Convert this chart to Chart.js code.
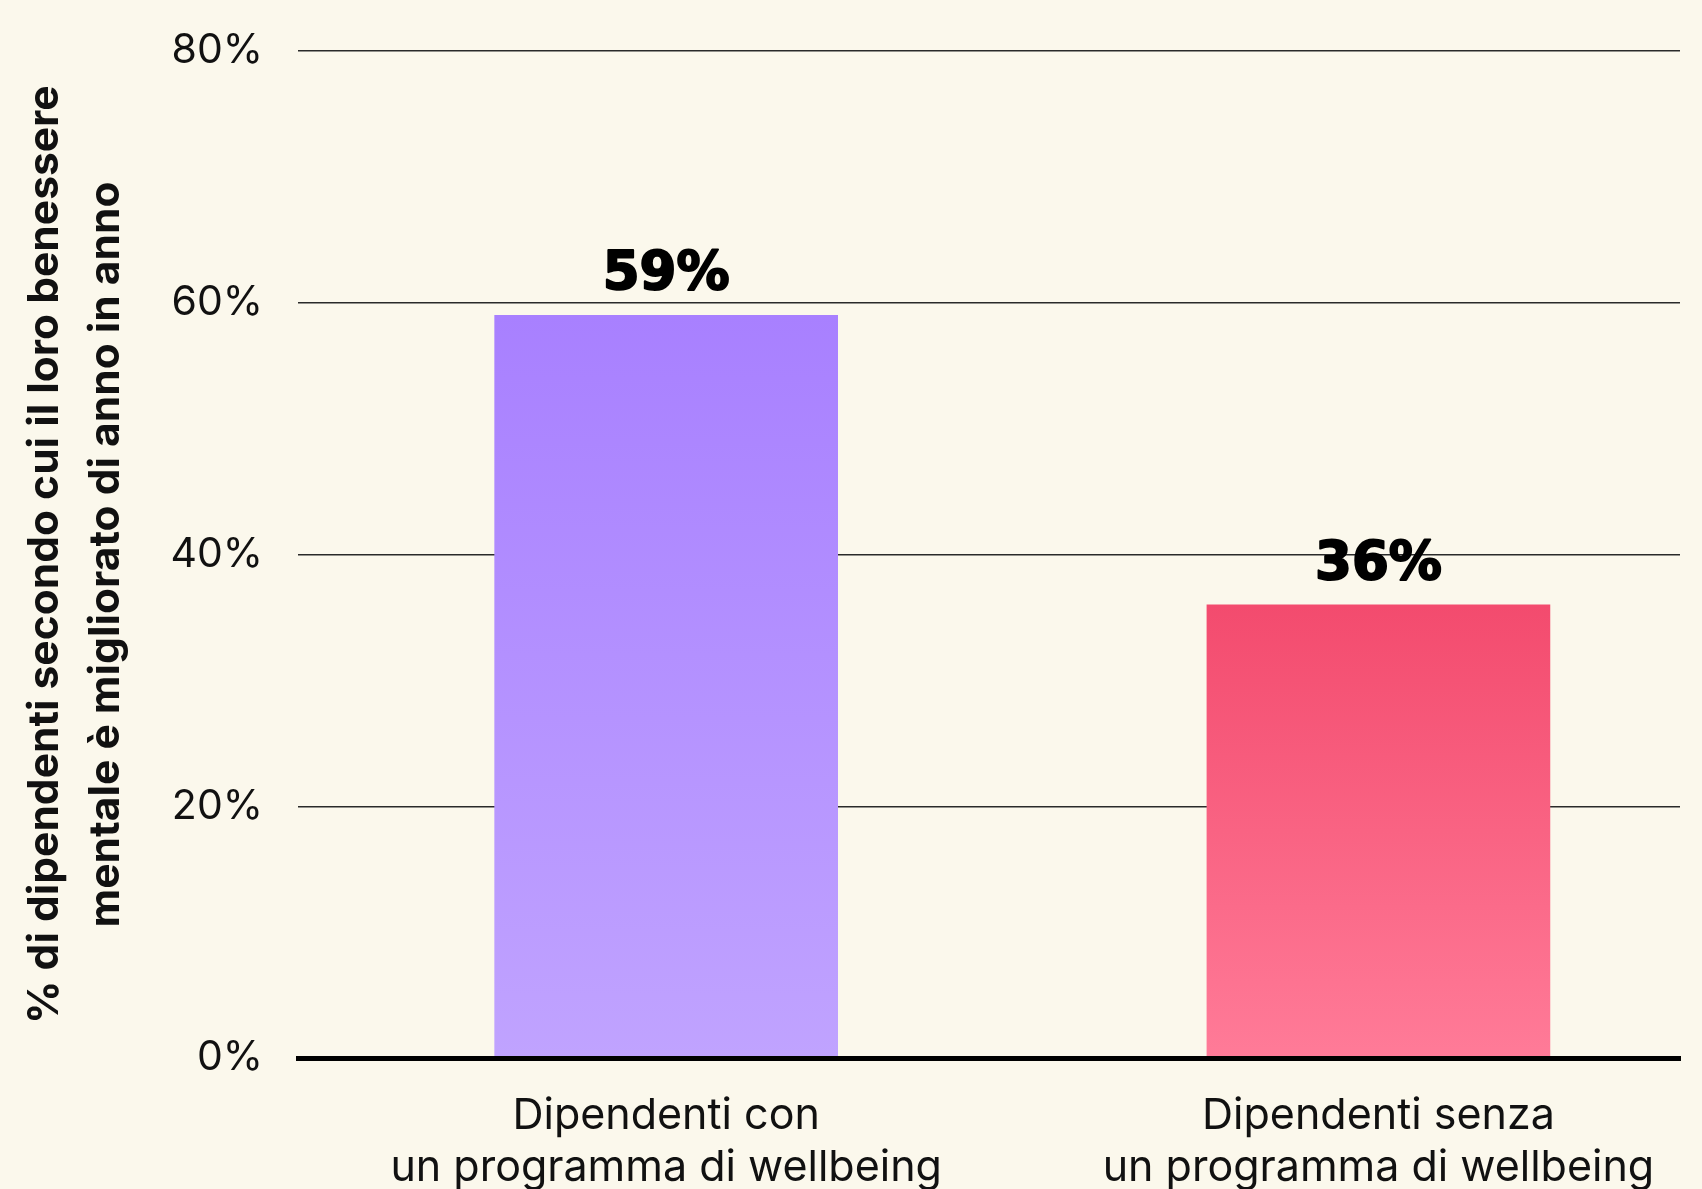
<!DOCTYPE html>
<html>
<head>
<meta charset="utf-8">
<script src="https://cdn.jsdelivr.net/npm/chart.js@4"></script>
<style>
  html, body { margin: 0; padding: 0; background: #FBF8EC; }
  #wrap { width: 1702px; height: 1189px; }
</style>
</head>
<body>
<div id="wrap"><canvas id="chart" width="1702" height="1189"></canvas></div>
<script>
// Chart data
const categories = [
  ["Dipendenti con", "un programma di wellbeing"],
  ["Dipendenti senza", "un programma di wellbeing"]
];
const values = [59, 36];
const yTickValues = [0, 20, 40, 60, 80];
const yTitle = [
  "% di dipendenti secondo cui il loro benessere",
  "mentale è migliorato di anno in anno"
];
const topColors = ["#A880FF", "#F34B6E"];
const bottomColors = ["#C0A3FF", "#FF7B98"];

const INK = "#111111";

// Vertical gradient per bar, from its top down to the baseline
function barGradient(ctx) {
  const chart = ctx.chart;
  const i = ctx.dataIndex;
  if (!chart.chartArea || ctx.type !== "data") return topColors[i] || topColors[0];
  const y = chart.scales.y;
  const top = y.getPixelForValue(values[i]);
  const bottom = y.getPixelForValue(0);
  const g = chart.ctx.createLinearGradient(0, top, 0, bottom);
  g.addColorStop(0, topColors[i]);
  g.addColorStop(1, bottomColors[i]);
  return g;
}

// Heavy percentage above each bar
const valueLabels = {
  id: "valueLabels",
  afterDatasetsDraw(chart) {
    const ctx = chart.ctx;
    chart.getDatasetMeta(0).data.forEach((bar, i) => {
      const text = values[i] + "%";
      ctx.save();
      ctx.font = 'bold 53px "DejaVu Sans"';
      ctx.fillStyle = "#000";
      ctx.strokeStyle = "#000";
      ctx.lineWidth = 2;
      ctx.lineJoin = "round";
      ctx.textAlign = "center";
      ctx.textBaseline = "alphabetic";
      ctx.strokeText(text, bar.x, bar.y - 26);
      ctx.fillText(text, bar.x, bar.y - 26);
      ctx.restore();
    });
  }
};

function build() {
  const points = values.map((v, i) => ({ x: i, y: v }));

  new Chart(document.getElementById("chart"), {
    type: "bar",
    data: {
      datasets: [{
        data: points,
        backgroundColor: barGradient,
        borderWidth: 0,
        barThickness: 343
      }]
    },
    options: {
      responsive: false,
      animation: false,
      devicePixelRatio: 1,
      layout: { padding: { top: 51, right: 22, bottom: 0, left: 0 } },
      plugins: {
        legend: { display: false },
        tooltip: { enabled: false }
      },
      scales: {
        x: {
          type: "linear",
          offset: false,
          min: -0.5169,
          max: 1.4234,
          afterBuildTicks: (s) => { s.ticks = categories.map((_, i) => ({ value: i })); },
          afterFit: (s) => { s.height = 131; },
          grid: { display: false, offset: false },
          border: { display: true, color: "#000", width: 5, z: 1 },
          ticks: {
            autoSkip: false,
            maxRotation: 0,
            padding: 24,
            color: INK,
            font: { family: "Inter", size: 43, lineHeight: 1.21 },
            callback: (v) => categories[v]
          }
        },
        y: {
          min: 0,
          max: 80,
          afterBuildTicks: (s) => { s.ticks = yTickValues.map(v => ({ value: v })); },
          afterFit: (s) => { s.width = 298; },
          border: { display: false },
          grid: {
            drawTicks: false,
            color: (c) => (c.tick && c.tick.value === 0) ? "rgba(0,0,0,0)" : "#2a2a2a",
            lineWidth: 1.5
          },
          ticks: {
            padding: 35,
            color: INK,
            font: { family: "Inter", size: 41, lineHeight: 0.5 },
            callback: (v) => v + "%"
          },
          title: {
            display: true,
            text: yTitle,
            color: INK,
            padding: { top: 15, bottom: 0 },
            font: { family: "Inter", size: 42.5, weight: "bold", lineHeight: 1.43 }
          }
        }
      }
    },
    plugins: [valueLabels]
  });
}

const fontsReady = document.fonts
  ? Promise.all([
      document.fonts.load('43px "Inter"'),
      document.fonts.load('bold 42px "Inter"'),
      document.fonts.load('bold 53px "DejaVu Sans"')
    ]).catch(() => {})
  : Promise.resolve();
fontsReady.then(build);
</script>
</body>
</html>
